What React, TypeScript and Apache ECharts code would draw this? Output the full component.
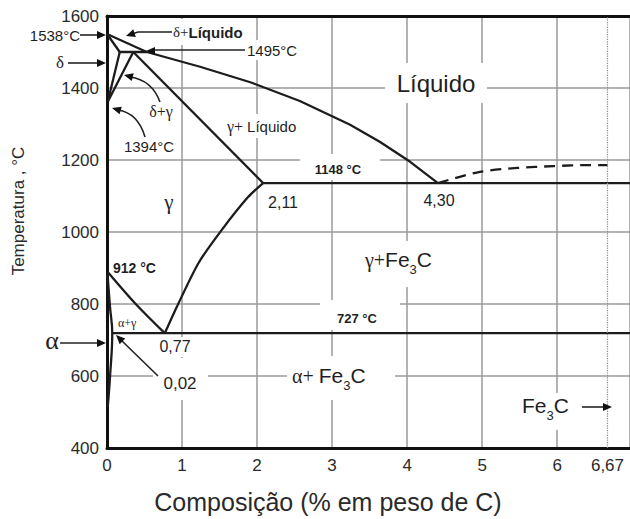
import React, { useEffect, useRef } from 'react';
import * as echarts from 'echarts';

// ---- data (composition % C, temperature °C) ----
const xTickValues = [0, 1, 2, 3, 4, 5, 6, 6.67];
const yTickValues = [400, 600, 800, 1000, 1200, 1400, 1600];
const liquidus = [[0, 1550], [0.53, 1500], [1.24, 1459], [1.91, 1416], [2.57, 1364], [3.24, 1298], [3.64, 1250], [4.04, 1195], [4.41, 1136]];
const liquidusFe3C = [[4.41, 1136], [4.97, 1167], [5.47, 1178], [5.95, 1183], [6.44, 1186], [6.67, 1186]];
const deltaSolidus = [[0, 1550], [0.17, 1500]];
const peritectic = [[0.17, 1500], [0.53, 1500]];
const deltaGammaLeft = [[0.17, 1500], [0.01, 1362]];
const deltaGammaRight = [[0.35, 1500], [0.01, 1362]];
const gammaSolidus = [[0.35, 1500], [2.08, 1136]];
const eutectic = [[2.08, 1136], [6.97, 1136]];
const acm = [[0.77, 719], [0.93, 792], [1.22, 914], [1.53, 1006], [1.88, 1097], [2.08, 1136]];
const a3 = [[0.01, 889], [0.37, 803], [0.77, 719]];
const eutectoid = [[0.07, 719], [6.97, 719]];
const alphaSolvus = [[0.005, 889], [0.04, 792], [0.07, 719], [0.04, 597], [0.01, 514]];
const cementiteComposition = 6.67;
const xMax = 6.97;

const SANS = "'Liberation Sans', Arial, sans-serif";
const SERIF = "'Liberation Serif', 'DejaVu Serif', serif";
const INK = '#1f1f1f';

function txt(text: string, x: number, y: number, o: any = {}) {
  const align = o.align ?? 'left';
  return {
    type: 'text', x, y, z: 6, rotation: o.rotation ?? 0,
    style: {
      text, fontSize: o.size ?? 15, fontFamily: o.family ?? SANS, fontWeight: o.weight ?? 'normal',
      fill: o.color ?? INK, align, textAlign: align, verticalAlign: 'middle', textVerticalAlign: 'middle',
      rich: o.rich,
    },
  };
}
function box(x: number, y: number, width: number, height: number) {
  return { type: 'rect', z: 1, shape: { x, y, width, height }, style: { fill: '#fff' } };
}
function head(tip: number[], from: number[], len = 9, half = 4) {
  const dx = tip[0] - from[0], dy = tip[1] - from[1];
  const d = Math.hypot(dx, dy) || 1;
  const ux = dx / d, uy = dy / d;
  const bx = tip[0] - ux * len, by = tip[1] - uy * len;
  return {
    type: 'polygon', z: 10,
    shape: { points: [tip, [bx - uy * half, by + ux * half], [bx + uy * half, by - ux * half]] },
    style: { fill: '#111' },
  };
}
function leader(points: number[][]) {
  return { type: 'polyline', z: 9, shape: { points }, style: { stroke: '#222', lineWidth: 1.6, fill: null } };
}
function curveLeader(p1: number[], cp: number[], p2: number[]) {
  return {
    type: 'bezierCurve', z: 9,
    shape: { x1: p1[0], y1: p1[1], cpx1: cp[0], cpy1: cp[1], x2: p2[0], y2: p2[1] },
    style: { stroke: '#222', lineWidth: 1.6, fill: null },
  };
}

const richBase = (size: number) => ({
  m: { fontSize: size, fontFamily: SANS, fill: INK, lineHeight: 28, verticalAlign: 'bottom', padding: [0, 0, 6, 0] },
  s: { fontSize: 13, fontFamily: SANS, fill: INK, lineHeight: 28, verticalAlign: 'bottom' },
  g: { fontSize: size - 1, fontFamily: SERIF, fill: INK, lineHeight: 28, verticalAlign: 'bottom', padding: [0, 0, 6, 0] },
});

export default function App() {
  const ref = useRef<HTMLDivElement>(null);
  useEffect(() => {
    const chart = echarts.init(ref.current!, null, { renderer: 'svg' });
    const ls = { color: '#1c1c1c', width: 2.3 };
    const mk = (name: string, data: number[][], extra: any = {}) => ({
      type: 'line', name, data, showSymbol: false, symbol: 'none', silent: true, z: 3,
      lineStyle: { ...ls, ...(extra.lineStyle || {}) }, smooth: extra.smooth ?? false,
      markLine: extra.markLine,
    });
    chart.setOption({
      animation: false,
      backgroundColor: '#fff',
      grid: { left: 107, right: 0, top: 16, bottom: 71, containLabel: false, outerBoundsMode: 'none' },
      xAxis: [
        {
          type: 'value', min: 0, max: xMax, interval: 1,
          axisLine: { show: true, onZero: false, lineStyle: { color: '#111', width: 3 } },
          axisTick: { show: false },
          axisLabel: {
            customValues: xTickValues, fontSize: 17, color: '#2a2a2a', margin: 9, fontFamily: SANS,
            formatter: (v: number) => String(v).replace('.', ','),
          },
          splitLine: { show: true, lineStyle: { color: '#9a9a9a', width: 1.5 } },
        },
        {
          type: 'value', min: 0, max: xMax, position: 'top',
          axisLine: { show: true, onZero: false, lineStyle: { color: '#111', width: 3 } },
          axisTick: { show: false }, axisLabel: { show: false }, splitLine: { show: false },
        },
      ],
      yAxis: {
        type: 'value', min: yTickValues[0], max: yTickValues[yTickValues.length - 1], interval: 200,
        axisLine: { show: true, onZero: false, lineStyle: { color: '#111', width: 3 } },
        axisTick: { show: false },
        axisLabel: { fontSize: 17, color: '#2a2a2a', margin: 8, fontFamily: SANS, formatter: (v: number) => String(v) },
        splitLine: { show: true, lineStyle: { color: '#9a9a9a', width: 1.5 } },
      },
      series: [
        mk('liquidus', liquidus),
        mk('liquidusFe3C', liquidusFe3C, { smooth: 0.3, lineStyle: { type: [11, 7], width: 2.3 } }),
        mk('deltaSolidus', deltaSolidus),
        mk('peritectic', peritectic),
        mk('deltaGammaLeft', deltaGammaLeft),
        mk('deltaGammaRight', deltaGammaRight),
        mk('gammaSolidus', gammaSolidus),
        mk('eutectic', eutectic, {
          markLine: {
            silent: true, symbol: ['none', 'none'], label: { show: false },
            lineStyle: { type: 'dotted', color: '#888', width: 1.2 },
            data: [{ xAxis: cementiteComposition }],
          },
        }),
        mk('acm', acm, { smooth: 0.25 }),
        mk('a3', a3, { smooth: 0.3 }),
        mk('eutectoid', eutectoid),
        mk('alphaSolvus', alphaSolvus, { smooth: 0.4 }),
      ],
    });

    const rich = richBase(21);
    const graphic: any[] = [
      // white label backgrounds
      box(385, 63, 102, 40), box(300, 154, 80, 26), box(358, 241, 98, 46), box(320, 300, 80, 30),
      box(153, 358, 55, 42), box(155, 337, 41, 20), box(287, 356, 108, 44), box(515, 393, 65, 37),
      box(222, 114, 83, 24), box(243, 40, 57, 20), box(170, 19, 82, 26),
      // axis titles
      txt('Temperatura , °C', 18, 211, { size: 17, align: 'center', rotation: Math.PI / 2, color: '#2a2a2a' }),
      txt('Composição (% em peso de C)', 328, 502, { size: 25, align: 'center', color: '#2a2a2a' }),
      // labels
      txt('1538°C', 80, 35, { align: 'right', size: 15 }),
      txt('δ', 60, 62, { align: 'center', family: SERIF, size: 17 }),
      txt('{g|δ+}{t|Líquido}', 173, 32, {
        rich: { g: { fontSize: 15, fontFamily: SERIF, fill: INK }, t: { fontSize: 15, fontFamily: SANS, fontWeight: 'bold', fill: INK } },
      }),
      txt('1495°C', 247, 50, { size: 15 }),
      txt('δ+γ', 161, 111, { align: 'center', family: SERIF, size: 16 }),
      txt('1394°C', 149, 146, { align: 'center', size: 15 }),
      txt('{g|γ+ }{t|Líquido}', 227, 126, {
        rich: { g: { fontSize: 16, fontFamily: SERIF, fill: INK }, t: { fontSize: 15, fontFamily: SANS, fill: INK } },
      }),
      txt('Líquido', 436, 83, { align: 'center', size: 24 }),
      txt('1148 °C', 338, 169, { align: 'center', weight: 'bold', size: 13 }),
      txt('γ', 169, 202, { align: 'center', family: SERIF, size: 21 }),
      txt('2,11', 283, 202, { align: 'center', size: 16 }),
      txt('4,30', 439, 200, { align: 'center', size: 16 }),
      txt('{g|γ+}{m|Fe}{s|3}{m|C}', 365, 262, { rich }),
      txt('912 °C', 113, 268, { weight: 'bold', size: 14 }),
      txt('α+γ', 118, 323, { family: SERIF, size: 12 }),
      txt('727 °C', 357, 318, { align: 'center', weight: 'bold', size: 13 }),
      txt('0,77', 175, 346, { align: 'center', size: 16 }),
      txt('0,02', 180, 383, { align: 'center', size: 17 }),
      txt('α', 52, 340, { align: 'center', family: SERIF, size: 26 }),
      txt('{g|α+ }{m|Fe}{s|3}{m|C}', 292, 378, { rich }),
      txt('{m|Fe}{s|3}{m|C}', 522, 408, { rich }),
      // leaders and arrow heads
      leader([[80, 35], [100, 35]]), head([106, 35], [80, 35]),
      leader([[68, 63], [100, 63]]), head([106, 63], [68, 63]),
      leader([[172, 32], [138, 32], [132, 34]]), head([126, 36], [138, 32]),
      leader([[245, 50], [152, 50]]), head([146, 51], [245, 51]),
      curveLeader([160, 102], [152, 80], [130, 77]), head([124, 75], [140, 79]),
      curveLeader([145, 137], [138, 113], [118, 110]), head([112, 108], [126, 112]),
      leader([[158, 376], [121, 340]]), head([116, 335], [158, 376]),
      leader([[60, 343], [100, 343]]), head([106, 343], [60, 343]),
      leader([[582, 407], [606, 407]]), head([612, 407], [582, 407]),
    ];
    chart.setOption({ graphic });
    return () => chart.dispose();
  }, []);
  return (
    <div
      ref={ref}
      style={{ position: 'fixed', left: 0, top: 0, width: 630, height: 519, background: '#fff' }}
    />
  );
}
